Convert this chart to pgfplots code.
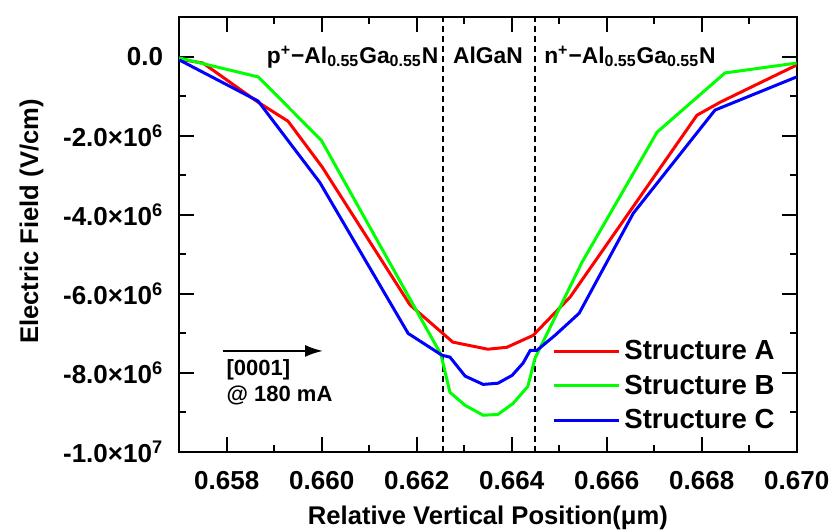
\documentclass[border=0pt]{standalone}
\usepackage{fontspec}
\setmainfont{Liberation Sans}
\usepackage{pgfplots}
\pgfplotsset{compat=1.18}
\usetikzlibrary{arrows.meta}

\newcommand\tickf{\fontsize{13}{15}\selectfont\bfseries}
\newcommand\labf{\fontsize{12.8}{15}\selectfont\bfseries}
\newcommand\legf{\fontsize{13.8}{16}\selectfont\bfseries}
\newcommand\midf{\fontsize{11.4}{13.5}\selectfont\bfseries}
\newcommand\smallf{\fontsize{11}{13}\selectfont\bfseries}

% Electric field along the vertical direction, three structures
\pgfplotstableread{
x        E
0.65700  -0.06e6
0.65750  -0.16e6
0.65866  -1.15e6
0.65929  -1.63e6
0.66001  -2.79e6
0.66186  -6.28e6
0.66255  -7.00e6
0.66276  -7.22e6
0.66350  -7.40e6
0.66390  -7.35e6
0.66445  -7.05e6
0.66523  -6.08e6
0.66790  -1.48e6
0.66839  -1.15e6
0.67000  -0.21e6
}\structA

\pgfplotstableread{
x        E
0.65700  -0.03e6
0.65866  -0.51e6
0.65999  -2.11e6
0.66251  -7.53e6
0.66270  -8.49e6
0.66302  -8.82e6
0.66340  -9.07e6
0.66371  -9.05e6
0.66403  -8.77e6
0.66434  -8.34e6
0.66449  -7.63e6
0.66548  -5.20e6
0.66706  -1.91e6
0.66849  -0.41e6
0.67000  -0.16e6
}\structB

\pgfplotstableread{
x        E
0.65700  -0.08e6
0.65866  -1.12e6
0.65996  -3.18e6
0.66182  -7.00e6
0.66253  -7.55e6
0.66270  -7.60e6
0.66302  -8.08e6
0.66340  -8.29e6
0.66371  -8.26e6
0.66401  -8.06e6
0.66424  -7.75e6
0.66439  -7.43e6
0.66453  -7.43e6
0.66491  -7.05e6
0.66542  -6.49e6
0.66656  -3.96e6
0.66828  -1.35e6
0.67000  -0.51e6
}\structC

\begin{document}
\begin{tikzpicture}
\begin{axis}[
  name=ax,
  scale only axis,
  width=308.75pt, height=217.4pt,
  xmin=0.657, xmax=0.670,
  ymin=-1e7, ymax=1e6,
  axis line style={line width=1pt},
  every tick/.style={black, line width=1pt},
  major tick length=7.5pt,
  minor tick length=3.5pt,
  tick align=inside,
  tick pos=both,
  xtick={0.658,0.660,0.662,0.664,0.666,0.668,0.670},
  xticklabels={0.658,0.660,0.662,0.664,0.666,0.668,0.670},
  minor x tick num=1,
  ytick={-1e7,-8e6,-6e6,-4e6,-2e6,0},
  yticklabels={-1.0×10\textsuperscript{7},-8.0×10\textsuperscript{6},-6.0×10\textsuperscript{6},-4.0×10\textsuperscript{6},-2.0×10\textsuperscript{6},0.0},
  minor y tick num=1,
  scaled ticks=false,
  ticklabel style={font=\tickf},
  xticklabel style={yshift=-6pt},
  yticklabel style={xshift=-4.5pt},
  xlabel={Relative Vertical Position(μm)},
  ylabel={Electric Field (V/cm)},
  label style={font=\labf},
  xlabel style={yshift=-1.5pt},
  ylabel style={at={(ticklabel cs:0.53)}, yshift=3pt},
  legend style={draw=none, fill=none, at={(0.6037,0.152)}, anchor=west,
    font=\legf, row sep=2pt, inner sep=0pt},
  legend cell align=left,
  legend image code/.code={\draw[#1] (0pt,0pt) -- (32.5pt,0pt);},
]
% layer boundaries
\addplot[black, line width=1pt, dash pattern=on 3pt off 2pt, forget plot]
  coordinates {(0.66255,-1e7) (0.66255,1e6)};
\addplot[black, line width=1pt, dash pattern=on 3pt off 2pt, forget plot]
  coordinates {(0.66449,-1e7) (0.66449,1e6)};

\addplot[red, line width=1.5pt] table[x=x, y=E] {\structA};
\addlegendentry{Structure A}
\addplot[green, line width=1.5pt] table[x=x, y=E] {\structB};
\addlegendentry{Structure B}
\addplot[blue, line width=1.5pt] table[x=x, y=E] {\structC};
\addlegendentry{Structure C}

\node[font=\midf, anchor=base] at (axis cs:0.66065,-1.6e5)
  {p\textsuperscript{+}−Al\textsubscript{0.55}Ga\textsubscript{0.55}N};
\node[font=\midf, anchor=base] at (axis cs:0.66350,-1.6e5) {AlGaN};
\node[font=\midf, anchor=base] at (axis cs:0.66649,-1.6e5)
  {n\textsuperscript{+}−Al\textsubscript{0.55}Ga\textsubscript{0.55}N};

\draw[line width=1.2pt, -{Latex[length=9pt,width=6pt]}]
  (axis cs:0.65792,-7.443e6) -- (axis cs:0.66003,-7.443e6);
\node[font=\smallf, anchor=base west, inner sep=0pt] at (axis cs:0.65799,-8.06e6) {[0001]};
\node[font=\smallf, anchor=base west, inner sep=0pt] at (axis cs:0.65799,-8.73e6) {@ 180 mA};
\end{axis}
\pgfresetboundingbox
\path[use as bounding box]
  ([xshift=-89.6pt,yshift=-39.5pt]ax.south west) rectangle
  ([xshift=17.15pt,yshift=8.6pt]ax.north east);
\end{tikzpicture}
\end{document}
